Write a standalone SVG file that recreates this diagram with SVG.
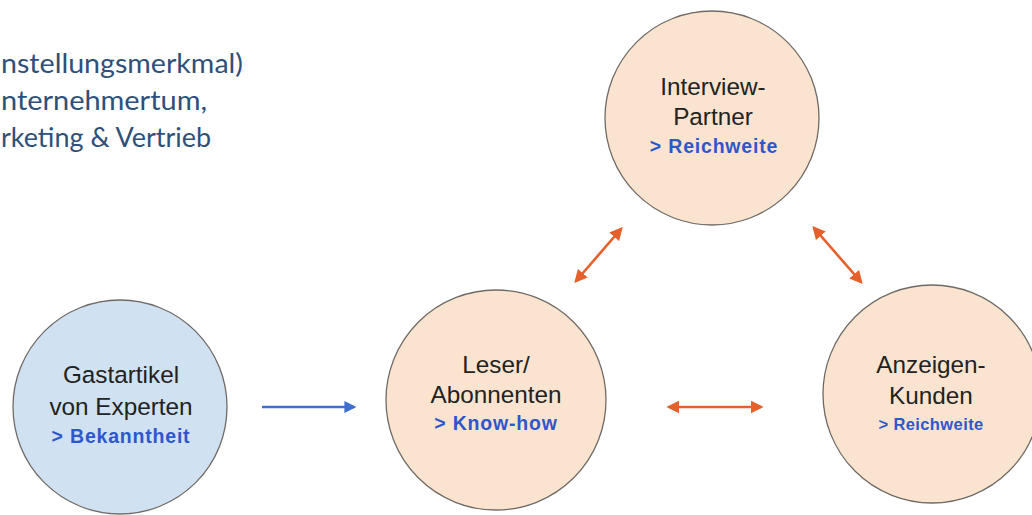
<svg xmlns="http://www.w3.org/2000/svg" width="1032" height="515" viewBox="0 0 1032 515">
<defs>
<style>
.side{font-family:Lato,"Open Sans",sans-serif;font-size:27px;font-weight:normal;fill:#2e5079}
.node circle{stroke:#6f6a66;stroke-width:1.3}
.peach{fill:#fbe4cf}
.blue{fill:#d0e1f2}
.lbl{font-family:"Liberation Sans",Arial,sans-serif;font-size:24.3px;fill:#222;text-anchor:middle}
.sub{font-family:"Liberation Sans",Arial,sans-serif;font-size:19.5px;font-weight:bold;fill:#2f57cc;text-anchor:middle;letter-spacing:0.8px}
.sub2{font-size:16.5px;letter-spacing:0.4px}
.or{stroke:#e5602a;stroke-width:2.6;fill:none}
.bl{stroke:#3f6fcf;stroke-width:2.4;fill:none}
</style>
<marker id="ao" viewBox="0 0 10 10" refX="8" refY="5" markerWidth="5" markerHeight="5" orient="auto-start-reverse" markerUnits="strokeWidth"><path d="M0,0 L10,5 L0,10 Z" fill="#e5602a"/></marker>
<marker id="ab" viewBox="0 0 10 10" refX="8" refY="5" markerWidth="5" markerHeight="5" orient="auto" markerUnits="strokeWidth"><path d="M0,0 L10,5 L0,10 Z" fill="#3f6fcf"/></marker>
</defs>
<rect width="1032" height="515" fill="#fff"/>
<g id="sidetext">
<text class="side" x="1" y="73" textLength="242" lengthAdjust="spacingAndGlyphs">nstellungsmerkmal)</text>
<text class="side" x="1" y="110" textLength="206" lengthAdjust="spacingAndGlyphs">nternehmertum,</text>
<text class="side" x="1" y="147" textLength="210" lengthAdjust="spacingAndGlyphs">rketing &amp; Vertrieb</text>
</g>
<g id="interview" class="node">
<circle class="peach" cx="712" cy="118" r="107"/>
<text class="lbl" x="713" y="95">Interview-</text>
<text class="lbl" x="713" y="125">Partner</text>
<text class="sub" x="714" y="153">&gt; Reichweite</text>
</g>
<g id="gast" class="node">
<circle class="blue" cx="120" cy="407" r="107"/>
<text class="lbl" x="121" y="383">Gastartikel</text>
<text class="lbl" x="121" y="415">von Experten</text>
<text class="sub" x="121" y="443">&gt; Bekanntheit</text>
</g>
<g id="leser" class="node">
<circle class="peach" cx="496" cy="400" r="110"/>
<text class="lbl" x="496" y="373">Leser/</text>
<text class="lbl" x="496" y="403">Abonnenten</text>
<text class="sub" x="496" y="430">&gt; Know-how</text>
</g>
<g id="anzeigen" class="node">
<circle class="peach" cx="932" cy="394" r="109"/>
<text class="lbl" x="931" y="373">Anzeigen-</text>
<text class="lbl" x="931" y="404">Kunden</text>
<text class="sub sub2" x="931" y="430">&gt; Reichweite</text>
</g>
<g id="connectors">
<line class="bl" x1="262" y1="407" x2="354" y2="407" marker-end="url(#ab)"/>
<line class="or" x1="669" y1="407" x2="761" y2="407" marker-start="url(#ao)" marker-end="url(#ao)"/>
<line class="or" x1="576" y1="281" x2="621" y2="229" marker-start="url(#ao)" marker-end="url(#ao)"/>
<line class="or" x1="814" y1="228" x2="861" y2="282" marker-start="url(#ao)" marker-end="url(#ao)"/>
</g>
</svg>
